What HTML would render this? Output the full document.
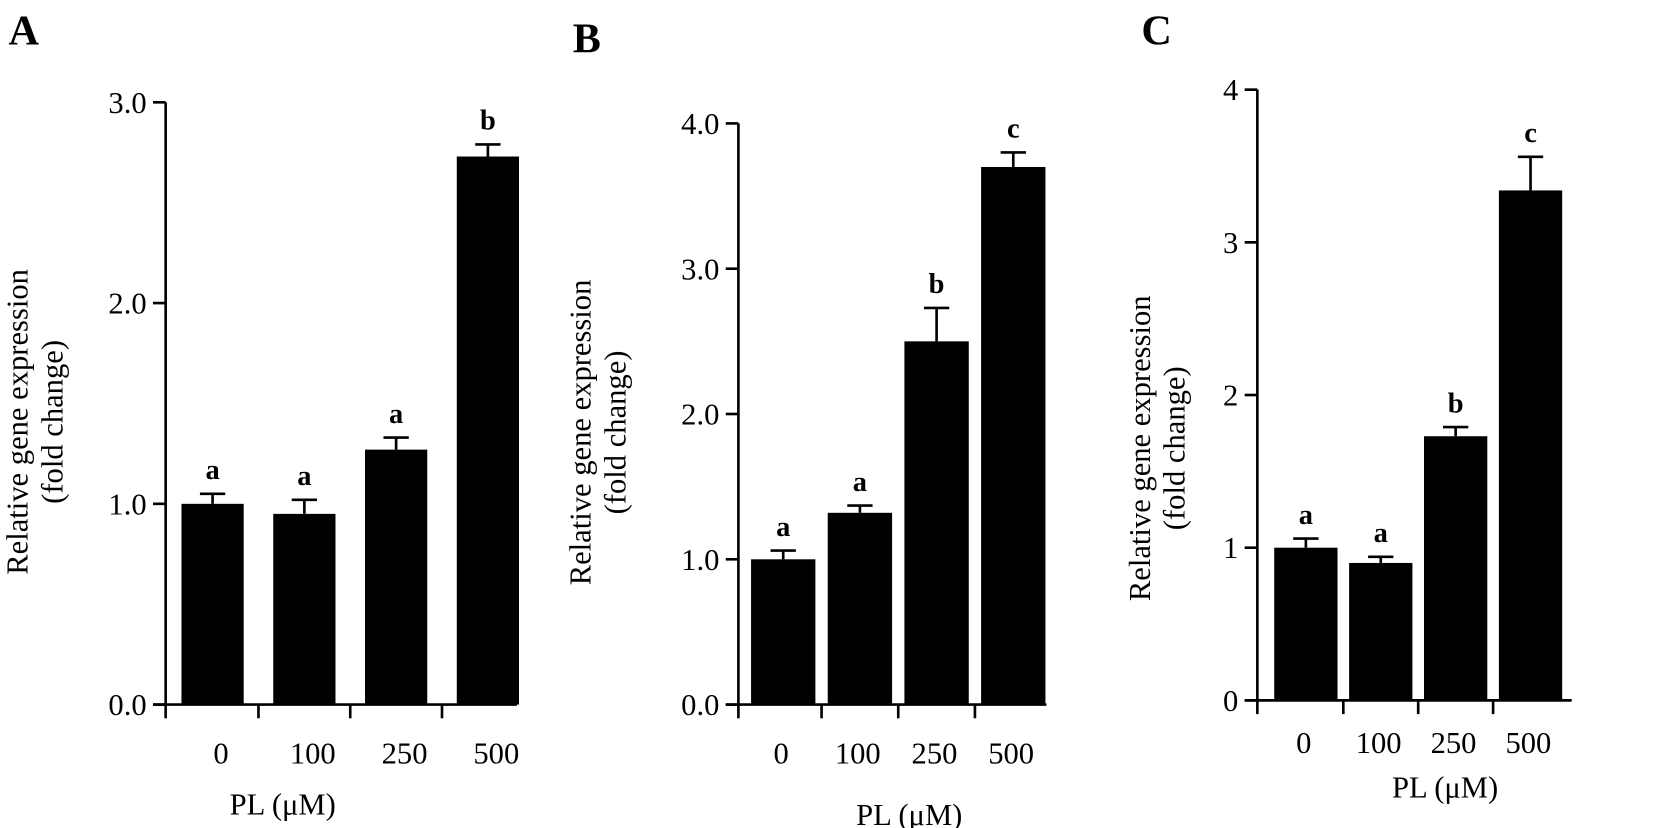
<!DOCTYPE html>
<html><head><meta charset="utf-8"><style>
html,body{margin:0;padding:0;background:#fff;}
svg{display:block;font-family:"Liberation Serif",serif;}
</style></head><body>
<svg id="fig" width="1654" height="828" viewBox="0 0 1568 785" xmlns="http://www.w3.org/2000/svg"></svg>
<script>
const categories = ["0","100","250","500"];
const valuesA = [1.0, 0.95, 1.27, 2.73];
const errorsA = [0.05, 0.07, 0.06, 0.06];
const lettersA = ["a","a","a","b"];
const ticksA = ["0.0","1.0","2.0","3.0"];
const valuesB = [1.0, 1.32, 2.5, 3.7];
const errorsB = [0.06, 0.05, 0.23, 0.1];
const lettersB = ["a","a","b","c"];
const ticksB = ["0.0","1.0","2.0","3.0","4.0"];
const valuesC = [1.0, 0.9, 1.73, 3.34];
const errorsC = [0.06, 0.04, 0.06, 0.22];
const lettersC = ["a","a","b","c"];
const ticksC = ["0","1","2","3","4"];

const svg = document.getElementById('fig');
const NS = "http://www.w3.org/2000/svg";
function mk(tag, attrs, parent){const e=document.createElementNS(NS,tag);for(const k in attrs)e.setAttribute(k,attrs[k]);(parent||svg).appendChild(e);return e;}

function panel(cfg){
  const g = mk('g',{});
  
  
  const ymax = cfg.ticks.length-1;
  const y = v => cfg.y0 - (cfg.y0-cfg.yTop)*v/ymax;
  const barX = i => cfg.barStart + i*cfg.pitch;
  const L = mk('text',{x:cfg.letterX,y:cfg.letterY,'font-size':40,'font-weight':'bold'},g);
  L.textContent = cfg.id;
  
  
  const ya = mk('line',{x1:cfg.ax,y1:cfg.yTop,x2:cfg.ax,y2:cfg.y0,stroke:'#000','stroke-width':2.5},g);
  
  
  cfg.ticks.forEach((t,i)=>{
    const yy = y(i);
    mk('line',{x1:cfg.ax-12,y1:yy,x2:cfg.ax,y2:yy,stroke:'#000','stroke-width':2.5},g);
    const tx = mk('text',{x:cfg.ax-18,y:yy+10,'font-size':29,'text-anchor':'end'},g);
    tx.textContent = t;
    
    
  });
  const xa = mk('line',{x1:cfg.ax-12,y1:cfg.y0,x2:cfg.axEnd,y2:cfg.y0,stroke:'#000','stroke-width':2.5},g);
  
  
  for(let i=0;i<categories.length;i++){
    const tx = i===0 ? cfg.ax : (barX(i) - (cfg.pitch-cfg.bw)/2);
    mk('line',{x1:tx,y1:cfg.y0,x2:tx,y2:cfg.y0+13,stroke:'#000','stroke-width':2.5},g);
  }
  categories.forEach((c,i)=>{
    const cx = barX(i)+cfg.bw/2;
    const v = cfg.values[i], e = cfg.errors[i];
    const r = mk('rect',{x:barX(i),y:y(v),width:cfg.bw,height:cfg.y0-y(v),fill:'#000'},g);
    
    
    mk('line',{x1:cx,y1:y(v),x2:cx,y2:y(v+e),stroke:'#000','stroke-width':2.5},g);
    const cap = mk('line',{x1:cx-12,y1:y(v+e),x2:cx+12,y2:y(v+e),stroke:'#000','stroke-width':2.5},g);
    
    
    const s = mk('text',{x:cx,y:y(v+e)-14,'font-size':27,'font-weight':'bold','text-anchor':'middle'},g);
    s.textContent = cfg.letters[i];
    
    
    const xl = mk('text',{x:cx+cfg.lblOff,y:cfg.xLblY,'font-size':29,'text-anchor':'middle'},g);
    xl.textContent = c;
    
    
  });
  const xt = mk('text',{x:cfg.xTitleX,y:cfg.xTitleY,'font-size':29,'text-anchor':'middle'},g);
  xt.textContent = 'PL (\u03bcM)';
  
  
  const yt = mk('text',{transform:`translate(${cfg.ytX},${cfg.ytY}) rotate(-90)`,'font-size':29,'text-anchor':'middle'},g);
  
  
  const t1 = mk('tspan',{x:0,y:0},yt); t1.textContent='Relative gene expression';
  const t2 = mk('tspan',{x:0,y:33},yt); t2.textContent='(fold change)';
}

panel({id:'A',values:valuesA,errors:errorsA,letters:lettersA,ticks:ticksA,
  ax:157,axEnd:490,yTop:97,y0:668,barStart:172,pitch:87,bw:59,
  letterX:8,letterY:42,xLblY:724,xTitleX:268,xTitleY:772,ytX:26,ytY:400,lblOff:8});
panel({id:'B',values:valuesB,errors:errorsB,letters:lettersB,ticks:ticksB,
  ax:700,axEnd:992,yTop:117,y0:668,barStart:712,pitch:72.7,bw:61,
  letterX:543,letterY:50,xLblY:724,xTitleX:862,xTitleY:782,ytX:560,ytY:410,lblOff:-2});
panel({id:'C',values:valuesC,errors:errorsC,letters:lettersC,ticks:ticksC,
  ax:1192,axEnd:1490,yTop:85,y0:664,barStart:1208,pitch:71,bw:60,
  letterX:1082,letterY:42,xLblY:714,xTitleX:1370,xTitleY:756,ytX:1090,ytY:425,lblOff:-2});
</script>
</body></html>
